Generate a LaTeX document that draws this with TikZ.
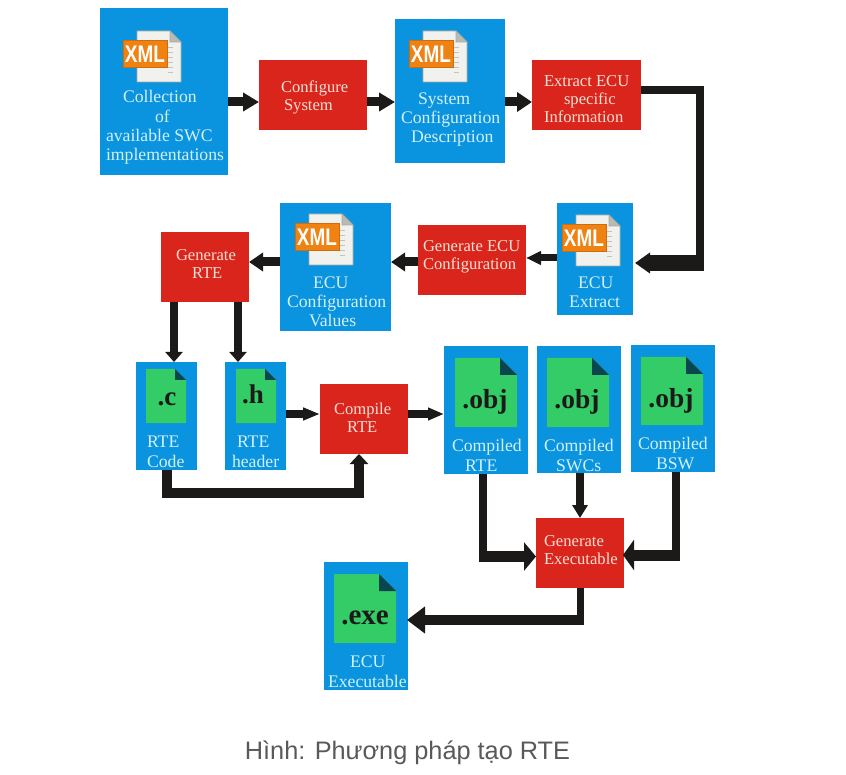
\documentclass[tikz,border=0pt]{standalone}
\usepackage{fontspec}
\setmainfont{Liberation Serif}
\newfontfamily\capfont{Liberation Sans}
\usetikzlibrary{arrows.meta}
\definecolor{bluebox}{HTML}{0A93DE}
\definecolor{redbox}{HTML}{D9251C}
\definecolor{bluetxt}{HTML}{D2F0FA}
\definecolor{redtxt}{HTML}{F9E0D4}
\definecolor{arrowk}{HTML}{1C1A18}
\definecolor{greendoc}{HTML}{33CC66}
\definecolor{folddark}{HTML}{0B4650}
\definecolor{xmlorange}{HTML}{F08212}
\definecolor{xmledge}{HTML}{CF6C10}
\definecolor{paperfill}{HTML}{F1F1EE}
\definecolor{paperedge}{HTML}{A9A9A2}
\tikzset{
  plain box/.style={draw=none,inner sep=0pt,outer sep=0pt},
  blue box/.style={plain box,fill=bluebox},
  red box/.style={plain box,fill=redbox},
  blue label/.style={inner sep=0pt,outer sep=0pt,anchor=base west,align=left,yshift=-1pt,text=bluetxt,font=\fontsize{17.7}{19.4}\selectfont},
  red label/.style={inner sep=0pt,outer sep=0pt,anchor=base west,align=left,yshift=-1pt,text=redtxt,font=\fontsize{16.6}{18}\selectfont},
  ext label/.style={inner sep=0pt,outer sep=0pt,anchor=base,text=arrowk},
  conn/.style={draw=arrowk,line width=#1},
  conn/.default=8pt,
  tipped/.style n args={3}{draw=arrowk,line width=#1,-{Triangle[length=#2,width=#3]}},
}
% name, style, x0, y0, x1, y1
\newcommand\placebox[6]{\node[#2,minimum width={(#5-#3)*1pt},minimum height={(#6-#4)*1pt}] (#1) at ({(#3+#5)/2},{(#4+#6)/2}) {};}
% name, style, x, last baseline, text
\newcommand\placelabel[5]{\node[#2] (#1) at (#3,#4) {#5};}
% xml icon: name, paper left, paper top
\newcommand\xmlicon[3]{%
  \fill[paperfill,draw=paperedge,line width=0.9pt] (#2,#3) -- ++(33,0) -- ++(11,11) -- ++(0,40) -- ++(-44,0) -- cycle;
  \fill[paperedge!80,draw=paperedge,line width=0.6pt] (#2+33,#3) -- ++(11,11) -- ++(-11,0) -- cycle;
  \foreach \k in {16,21,...,41}{\draw[paperedge!70,line width=0.6pt] (#2+31,#3+\k) -- ++(5,0);}
  \node[plain box,fill=xmlorange,draw=xmledge,line width=1pt,minimum width=44pt,minimum height=27pt,text=white,
        font=\capfont\bfseries\fontsize{24}{24}\selectfont] (#1) at (#2+8,#3+23.5) {\scalebox{.79}[1]{XML}};}
% doc icon: name, x0, y0, x1, y1, fold, text, size, text x, baseline
\newcommand\docicon[9]{%
  \fill[greendoc] (#2,#3) -- (#4-#6,#3) -- (#4,#3+#6) -- (#4,#5) -- (#2,#5) -- cycle;
  \fill[folddark] (#4-#6,#3) -- (#4,#3+#6) -- (#4-#6,#3+#6) -- cycle;
  \node[ext label,font=\bfseries\fontsize{#8}{#8}\selectfont] (#1) at #9 {#7};}
\begin{document}
\begin{tikzpicture}[x=1pt,y=-1pt]
\useasboundingbox (0,0) rectangle (846,775);
% boxes
\placebox{b1}{blue box}{100}{8}{228}{175}
\placebox{r1}{red box}{259}{60}{367}{130}
\placebox{b2}{blue box}{395}{19}{505}{163}
\placebox{r2}{red box}{532}{60}{641}{130}
\placebox{b3}{blue box}{557}{203}{633}{315}
\placebox{r3}{red box}{418}{225}{526}{295}
\placebox{b4}{blue box}{280}{203}{391}{331}
\placebox{r4}{red box}{161}{232}{249}{302}
\placebox{bc}{blue box}{136}{362}{197}{470}
\placebox{bh}{blue box}{225}{362}{286}{470}
\placebox{r5}{red box}{320}{384}{408}{454}
\placebox{o1}{blue box}{444}{346}{528}{474}
\placebox{o2}{blue box}{537}{346}{621}{473}
\placebox{o3}{blue box}{631}{345}{715}{472}
\placebox{r6}{red box}{536}{518}{624}{588}
\placebox{bx}{blue box}{324}{562}{408}{690}
% icons
\xmlicon{x1}{137}{31}
\xmlicon{x2}{423}{31}
\xmlicon{x3}{576}{215}
\xmlicon{x4}{309}{214}
\docicon{dc}{146}{369}{186}{423}{11}{.c}{27}{(167,406)}
\docicon{dh}{236}{369}{276}{423}{11}{.h}{27}{(253,403)}
\docicon{d1}{455}{358}{517}{427}{17}{.obj}{27.5}{(485,409)}
\docicon{d2}{547}{358}{609}{427}{17}{.obj}{27.5}{(577,409)}
\docicon{d3}{641}{357}{703}{425}{17}{.obj}{27.5}{(671,407)}
\docicon{dx}{334}{574}{396}{643}{17}{.exe}{29}{(365,624)}
% labels
\placelabel{t1}{blue label}{106}{160}{\hspace*{17pt}Collection\\\hspace*{49pt}of\\available SWC\\implementations}
\placelabel{t2}{blue label}{401}{142}{\hspace*{17pt}System\\Configuration\\\hspace*{10pt}Description}
\placelabel{t3}{blue label}{569}{307}{\hspace*{9pt}ECU\\Extract}
\placelabel{t4}{blue label}{287}{326}{\hspace*{26pt}ECU\\Configuration\\\hspace*{22pt}Values}
\placelabel{tc}{blue label}{147}{466}{RTE\\Code}
\placelabel{th}{blue label}{232}{466}{\hspace*{5pt}RTE\\header}
\placelabel{t5}{blue label}{452}{470}{Compiled\\\hspace*{13pt}RTE}
\placelabel{t6}{blue label}{544}{470}{Compiled\\\hspace*{12pt}SWCs}
\placelabel{t7}{blue label}{638}{468}{Compiled\\\hspace*{18pt}BSW}
\placelabel{t8}{blue label}{328}{686}{\hspace*{22pt}ECU\\Executable}
\placelabel{s1}{red label}{281}{110}{Configure\\\hspace*{3pt}System}
\placelabel{s2}{red label}{544}{122}{Extract ECU\\\hspace*{20pt}specific\\Information}
\placelabel{s3}{red label}{423}{269}{Generate ECU\\Configuration}
\placelabel{s4}{red label}{176}{278}{Generate\\\hspace*{16pt}RTE}
\placelabel{s5}{red label}{334}{431}{Compile\\\hspace*{13pt}RTE}
\placelabel{s6}{red label}{544}{563}{Generate\\Executable}
% connectors
\draw[tipped={9pt}{16pt}{18pt}] (b1.east |- 0,102) -- (r1.west |- 0,102);
\draw[tipped={9pt}{16pt}{18pt}] (r1.east |- 0,102) -- (b2.west |- 0,102);
\draw[tipped={9pt}{15pt}{19pt}] (b2.east |- 0,102) -- (r2.west |- 0,102);
\coordinate (c1) at (700,263);
\draw[conn=8pt] (r2.east |- 0,90) -| (c1);
\draw[tipped={16pt}{15pt}{20pt},shorten >=2pt] (c1) ++(4,0) -- (b3.east |- c1);
\draw[tipped={7pt}{15pt}{13pt}] (b3.west |- 0,258) -- (r3.east |- 0,258);
\draw[tipped={9pt}{14pt}{18pt}] (r3.west |- 0,262) -- (b4.east |- 0,262);
\draw[tipped={9pt}{14pt}{18pt}] (b4.west |- 0,262) -- (r4.east |- 0,262);
\draw[tipped={7.5pt}{10pt}{17pt}] (r4.south -| 174,0) -- (bc.north -| 174,0);
\draw[tipped={7.5pt}{10pt}{17pt}] (r4.south -| 238,0) -- (bh.north -| 238,0);
\draw[tipped={7pt}{17pt}{12pt}] (bh.east |- 0,414) -- (r5.west |- 0,414);
\draw[tipped={7pt}{16pt}{12pt}] (r5.east |- 0,414) -- (o1.west |- 0,414);
\coordinate (c2) at (167,493);
\coordinate (c6) at (359,493);
\draw[tipped={9.5pt}{10pt}{18pt},rounded corners=0pt] (bc.south -| c2) -- (c2) -- (c6) -- (r5.south -| c6);
\coordinate (c3) at (483,556.5);
\draw[conn=8pt] (o1.south -| c3) -- (c3);
\draw[tipped={11pt}{12pt}{28pt}] (c3) ++(-4,0) -- (r6.west |- c3);
\draw[tipped={8pt}{13pt}{15pt}] (o2.south -| 580,0) -- (r6.north -| 580,0);
\coordinate (c4) at (676,555);
\draw[conn=8pt] (o3.south -| c4) -- (c4);
\draw[tipped={11pt}{11pt}{30pt},shorten >=-1pt] (c4) ++(4,0) -- (r6.east |- c4);
\coordinate (c5) at (580,620);
\draw[conn=7pt] (r6.south -| c5) -- (c5);
\draw[tipped={10pt}{18pt}{26pt},shorten >=-1pt] (c5) ++(3.5,0) -- (bx.east |- c5);
% caption
\node[inner sep=0pt,anchor=base,text=black!65,font=\capfont\fontsize{25.3}{25.3}\selectfont] (cap) at (407.5,759) {Hình: Phương pháp tạo RTE};
\end{tikzpicture}
\end{document}
